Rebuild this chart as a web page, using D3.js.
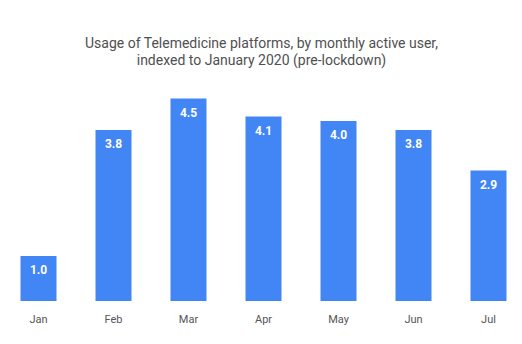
<!DOCTYPE html>
<html>
<head>
<meta charset="utf-8">
<script src="https://cdn.jsdelivr.net/npm/d3@7"></script>
<style>
  body { margin: 0; background: #fff; }
  text { font-family: Roboto, "Open Sans", sans-serif; }
</style>
</head>
<body>
<div id="chart"></div>
<script>
    let months = ['Jan', 'Feb', 'Mar', 'Apr', 'May', 'Jun', 'Jul'];
    let usage = [1.0, 3.8, 4.5, 4.1, 4.0, 3.8, 2.9];
    let titleLines = ['Usage of Telemedicine platforms, by monthly active user,', 'indexed to January 2020 (pre-lockdown)'];

    let svgAttr = {width: 522, height: 344};
    let baseY = 301;

    let svg = d3.select('#chart').append('svg').attr('width', svgAttr.width).attr('height', svgAttr.height);

    // x比例尺
    let xScale = d3.scaleBand().domain(months).range([1, 526]).paddingInner(0.52).paddingOuter(0.26);
    // y比例尺: 45px 一个单位
    let yScale = d3.scaleLinear().domain([0, 5]).range([baseY, baseY - 225]);

    // 标题
    svg.append('text').attr('x', 261.5).attr('y', 48).attr('text-anchor', 'middle')
        .attr('font-size', '14px').attr('fill', '#505050').attr('font-family', 'Lato, sans-serif')
        .selectAll('tspan').data(titleLines).enter().append('tspan')
        .attr('x', 261.5).attr('dy', function (d, i) { return i === 0 ? 0 : 17; })
        .text(function (d) { return d; });

    let bars = svg.selectAll('.bar').data(usage).enter().append('g');
    bars.append('rect')
        .attr('x', function (d, i) { return xScale(months[i]); })
        .attr('y', function (d) { return yScale(d); })
        .attr('width', xScale.bandwidth())
        .attr('height', function (d) { return baseY - yScale(d); })
        .attr('fill', '#4285F4');

    // 柱子里的数值
    bars.append('text')
        .attr('x', function (d, i) { return xScale(months[i]) + xScale.bandwidth() / 2; })
        .attr('y', function (d) { return yScale(d) + 18; })
        .attr('text-anchor', 'middle').attr('font-size', '12px').attr('font-weight', 'bold')
        .attr('fill', '#fff')
        .text(function (d) { return d.toFixed(1); });

    // x轴
    let xAxis = d3.axisBottom(xScale).tickSize(0).tickPadding(0);
    let axisG = svg.append('g').attr('transform', 'translate(0,' + (baseY + 14) + ')').call(xAxis);
    axisG.select('.domain').remove();
    axisG.selectAll('text').attr('font-size', '11px').attr('fill', '#555')
        .attr('font-family', 'Roboto, sans-serif');
</script>
</body>
</html>
